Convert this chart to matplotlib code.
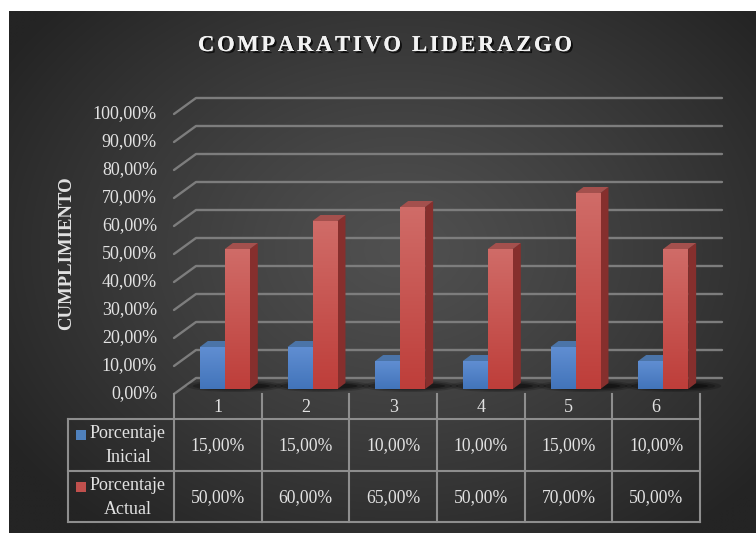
import numpy as np
import matplotlib
matplotlib.use("Agg")
import matplotlib.pyplot as plt
from matplotlib.patches import Polygon, Rectangle, Ellipse
from matplotlib.lines import Line2D
from matplotlib.transforms import IdentityTransform
import matplotlib.patheffects as pe

# ---------------- data ----------------
categories = ["1", "2", "3", "4", "5", "6"]
series_labels = [["Porcentaje", "Inicial"], ["Porcentaje", "Actual"]]
inicial = [15, 15, 10, 10, 15, 10]
actual = [50, 60, 65, 50, 70, 50]
y_ticks = [0, 10, 20, 30, 40, 50, 60, 70, 80, 90, 100]
title = "COMPARATIVO LIDERAZGO"
ylabel = "CUMPLIMIENTO"

# ---------------- setup ----------------
W, H = 756, 533
fig = plt.figure(figsize=(W / 100, H / 100), dpi=100)
plt.rcParams['font.family'] = ['Liberation Serif', 'DejaVu Serif']
TXT = '#e2e2e2'
ID = IdentityTransform()


def P(x, y):
    """image pixel coords (y down) -> display coords"""
    return x, H - y


# background with radial gradient
bg = fig.add_axes([0, 0, 1, 1])
bg.axis('off')
px0, py0 = 9, 11
xs = np.linspace(px0, W, 500)
ys = np.linspace(py0, H, 360)
X, Y = np.meshgrid(xs, ys)
d = np.sqrt(((X - 400) / 470) ** 2 + ((Y - 250) / 360) ** 2)
t = np.clip(d, 0, 1) ** 1.2
c_center = np.array([80, 80, 80]) / 255
c_edge = np.array([36, 36, 36]) / 255
img = c_center + (c_edge - c_center) * t[..., None]
bg.imshow(img, extent=(px0, W, H, py0), aspect='auto', interpolation='bilinear')
bg.set_xlim(0, W)
bg.set_ylim(H, 0)

# main axes = plane of the bars
L, R, B, T = 181, 707, 389, 109
ax = fig.add_axes([L / W, 1 - B / H, (R - L) / W, (B - T) / H])
ax.axis('off')
ax.patch.set_alpha(0)
ax.set_xlim(0.5, len(categories) + 0.5)
ax.set_ylim(0, 100)

FRONT = (-7, -5)
BACK = (15, 11)
DEPTH = (8, 6)
w = 0.285
x = np.arange(1, len(categories) + 1)

blue_bars = ax.bar(x - w / 2, inicial, width=w, color='#4f81bd', zorder=4, linewidth=0)
red_bars = ax.bar(x + w / 2, actual, width=w, color='#c0504d', zorder=6, linewidth=0)


def grad(c_top, c_bot, n=64):
    c_top = np.array(c_top) / 255
    c_bot = np.array(c_bot) / 255
    s = np.linspace(0, 1, n)[:, None]
    g = c_top + (c_bot - c_top) * s
    return g[:, None, :]


for bars, ctop, cbot, z in [(blue_bars, (96, 142, 210), (66, 116, 186), 4.1),
                            (red_bars, (208, 108, 104), (190, 62, 58), 6.1)]:
    for r in bars:
        x0, h, bw = r.get_x(), r.get_height(), r.get_width()
        im = ax.imshow(grad(ctop, cbot), extent=(x0, x0 + bw, 0, h), aspect='auto',
                       zorder=z, interpolation='bilinear')
        im.set_clip_path(r)

ax.set_xlim(0.5, len(categories) + 0.5)
ax.set_ylim(0, 100)


def disp(xv, yv, off=(0, 0)):
    p = ax.transData.transform((xv, yv))
    return p[0] + off[0], p[1] + off[1]


# gridlines (left wall diagonal + back wall) and y tick labels
xl, xr = 0.5, len(categories) + 0.5
for v in y_ticks:
    f = disp(xl, v, FRONT)
    b = disp(xl, v, BACK)
    e = disp(xr, v, BACK)
    ax.add_line(Line2D([f[0], b[0], e[0]], [f[1], b[1], e[1]], transform=ID,
                       color='#7d7d7d', lw=1.7, clip_on=False, zorder=1,
                       solid_capstyle='round', solid_joinstyle='round'))
    lab = f"{v:.2f}".replace('.', ',') + "%"
    ax.text(f[0] - 17, f[1], lab, transform=ID, ha='right', va='center',
            fontsize=13, color=TXT)

# floor shadows
for i in range(len(categories)):
    xa = disp(x[i] - w, 0)
    xb = disp(x[i] + w, 0)
    cxs = (xa[0] + xb[0]) / 2 + 10
    span = xb[0] - xa[0]
    for k, (ww, hh, al) in enumerate([(span + 46, 12, 0.18), (span + 34, 9, 0.25), (span + 20, 6, 0.35)]):
        ax.add_patch(Ellipse((cxs, xa[1] + 3), ww, hh, transform=ID, facecolor='black',
                             edgecolor='none', alpha=al, zorder=2, clip_on=False))


# 3D side and top faces
def faces(bars, side_col, top_col, z):
    for r in bars:
        x0, h, bw = r.get_x(), r.get_height(), r.get_width()
        p0 = disp(x0 + bw, 0)
        p1 = disp(x0 + bw, h)
        side = [p0, p1, (p1[0] + DEPTH[0], p1[1] + DEPTH[1]), (p0[0] + DEPTH[0], p0[1] + DEPTH[1])]
        ax.add_patch(Polygon(side, closed=True, transform=ID, facecolor=side_col,
                             edgecolor='none', zorder=z, clip_on=False))
        q0 = disp(x0, h)
        q1 = disp(x0 + bw, h)
        top = [q0, q1, (q1[0] + DEPTH[0], q1[1] + DEPTH[1]), (q0[0] + DEPTH[0], q0[1] + DEPTH[1])]
        ax.add_patch(Polygon(top, closed=True, transform=ID, facecolor=top_col,
                             edgecolor='none', zorder=z, clip_on=False))


faces(blue_bars, '#3a5f8f', '#4b74a8', 3.9)
faces(red_bars, '#862f2d', '#a4504d', 5.9)

# ---------------- data table ----------------
xbounds = [disp(xl + k, 0, FRONT)[0] for k in range(len(categories) + 1)]
y_top = H - disp(xl, 0, FRONT)[1]
y_r1, y_r2, y_bot = 419, 471, 522
x_leg = 68
LC = '#8e8e8e'


def hline(x1, x2, y):
    a, b = P(x1, y), P(x2, y)
    ax.add_line(Line2D([a[0], b[0]], [a[1], b[1]], transform=ID, color=LC, lw=1.5,
                       clip_on=False, zorder=2))


def vline(xx, y1, y2):
    a, b = P(xx, y1), P(xx, y2)
    ax.add_line(Line2D([a[0], b[0]], [a[1], b[1]], transform=ID, color=LC, lw=1.5,
                       clip_on=False, zorder=2))


for xb_ in xbounds:
    vline(xb_, y_top, y_bot)
vline(x_leg, y_r1, y_bot)
for yy in (y_r1, y_r2, y_bot):
    hline(x_leg, xbounds[-1], yy)

for k, c in enumerate(categories):
    cx = (xbounds[k] + xbounds[k + 1]) / 2
    ax.text(*P(cx, (y_top + y_r1) / 2 + 1), c, transform=ID, ha='center', va='center',
            fontsize=13, color=TXT)
    for vals, (ya, yb) in [(inicial, (y_r1, y_r2)), (actual, (y_r2, y_bot))]:
        lab = f"{vals[k]:.2f}".replace('.', ',') + "%"
        ax.text(*P(cx, (ya + yb) / 2 + 1), lab, transform=ID, ha='center', va='center',
                fontsize=12.7, color=TXT)

for (ya, yb), lines, col in [((y_r1, y_r2), series_labels[0], '#4f81bd'),
                              ((y_r2, y_bot), series_labels[1], '#c0504d')]:
    ax.add_patch(Rectangle(P(76, ya + 21), 10, 10, transform=ID, facecolor=col,
                           edgecolor='none', clip_on=False, zorder=3))
    ax.text(*P(128, ya + 14.5), lines[0], transform=ID, ha='center', va='center',
            fontsize=13, color=TXT)
    ax.text(*P(128, ya + 38.5), lines[1], transform=ID, ha='center', va='center',
            fontsize=13, color=TXT)

# y axis label
ax.text(*P(67, 253), ylabel, transform=ID, ha='center', va='center', rotation=90,
        fontsize=13.5, fontweight='bold', color=TXT)

# ---------------- title with letter spacing ----------------
renderer = fig.canvas.get_renderer()
tkw = dict(fontsize=16.3, fontweight='bold', color='#f2f2f2')
widths = []
for ch in title:
    if ch == ' ':
        tt = fig.text(0, 0, 'n n', **tkw)
        t2 = fig.text(0, 0, 'nn', **tkw)
        wdt = tt.get_window_extent(renderer).width - t2.get_window_extent(renderer).width
        tt.remove(); t2.remove()
    else:
        tt = fig.text(0, 0, ch, **tkw)
        wdt = tt.get_window_extent(renderer).width
        tt.remove()
    widths.append(wdt)
spacing = 2.7
total = sum(widths) + spacing * (len(title) - 1)
cx_title = 385
xpos = cx_title - total / 2
for ch, wdt in zip(title, widths):
    if ch != ' ':
        ax.text(*P(xpos, 45.5), ch, transform=ID, ha='left', va='center',
                path_effects=[pe.withSimplePatchShadow(offset=(1.5, -1.5), shadow_rgbFace='black', alpha=0.7),
                              pe.Normal()], **tkw)
    xpos += wdt + spacing

fig.savefig('out.png', dpi=100)
